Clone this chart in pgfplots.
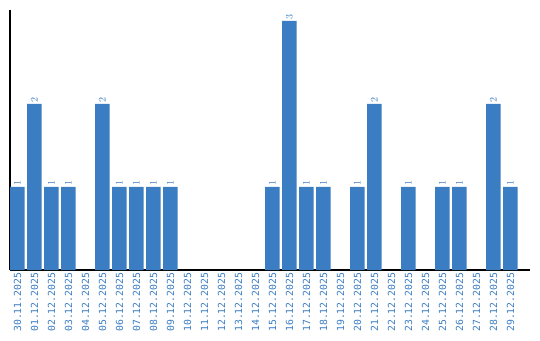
\documentclass[border=0pt]{standalone}
\usepackage{pgfplots}
\pgfplotsset{compat=1.18}
\usepackage{fontspec}
\setmainfont{DejaVu Sans}
\newfontfamily\monofont{DejaVu Sans Mono}
\definecolor{barblue}{HTML}{3B7DC3}
\begin{document}
\begin{tikzpicture}
\useasboundingbox (-10pt,-70pt) rectangle (530pt,270pt);
\begin{axis}[
  scale only axis,
  width=520pt, height=260pt,
  xmin=-0.44, xmax=30.15,
  ymin=0, ymax=3.13,
  axis x line*=bottom,
  axis y line*=left,
  axis line style={black, line width=1.2pt},
  ytick=\empty,
  xtick={0,...,29},
  major tick length=0pt,
  xticklabels={30.11.2025,01.12.2025,02.12.2025,03.12.2025,04.12.2025,05.12.2025,06.12.2025,07.12.2025,08.12.2025,09.12.2025,10.12.2025,11.12.2025,12.12.2025,13.12.2025,14.12.2025,15.12.2025,16.12.2025,17.12.2025,18.12.2025,19.12.2025,20.12.2025,21.12.2025,22.12.2025,23.12.2025,24.12.2025,25.12.2025,26.12.2025,27.12.2025,28.12.2025,29.12.2025},
  xticklabel style={rotate=90, anchor=east, font=\monofont\fontsize{9.8}{10}\selectfont, text=barblue, inner sep=2.5pt},
  ybar, bar width=14.5pt,
  clip=false,
  nodes near coords,
  every node near coord/.append style={rotate=90, anchor=west, font=\monofont\fontsize{10}{10}\selectfont, text=barblue, inner sep=1.5pt},
]
\addplot[fill=barblue, draw=none] coordinates {
(0,1) (1,2) (2,1) (3,1) (5,2) (6,1) (7,1) (8,1) (9,1)
(15,1) (16,3) (17,1) (18,1) (20,1) (21,2) (23,1) (25,1) (26,1) (28,2) (29,1)
};
\end{axis}
\end{tikzpicture}
\end{document}
